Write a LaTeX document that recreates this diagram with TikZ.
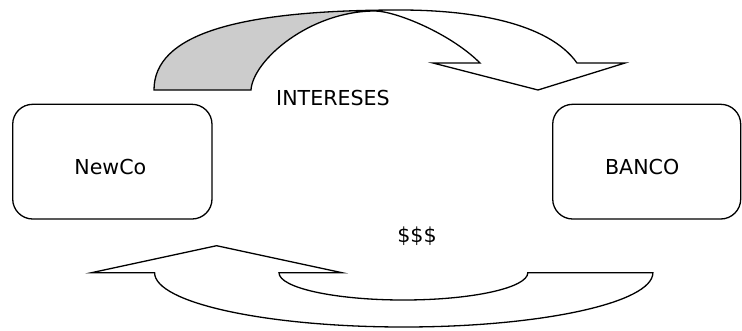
\documentclass[tikz,border=0pt]{standalone}
\usepackage{fontspec}
\setmainfont{DejaVu Sans}
\begin{document}
\begin{tikzpicture}[x=1pt,y=-1pt,line width=1.3pt,
  box/.style={draw,rounded corners=20pt,inner sep=0pt},
  lbl/.style={font=\fontsize{20.6}{24}\selectfont,inner sep=0pt},
  ribbon/.style={fill=black!20,draw=none}]
\fill[white] (0,0) rectangle (742,330);
\useasboundingbox (0,0) rectangle (742,330);
% boxes
\node[box,minimum width=199.3pt,minimum height=114.7pt] (newco) at (112.35,161.65) {};
\node[box,minimum width=188pt,minimum height=114.7pt] (banco) at (646.7,161.65) {};
\node[lbl] (newcoT) at (110.3,166.7) {NewCo};
\node[lbl] (bancoT) at (642.2,166.7) {BANCO};
\node[lbl] (int) at (333,98) {INTERESES};
\node[lbl] (usd) at (417,236) {\$\$\$};
% top curved arrow
\fill[ribbon] (154,90) .. controls (154,35) and (235,10) .. (400,10) -- (375,11)
  .. controls (310,11) and (253,60) .. (251,90) -- cycle;
\draw[line join=miter] (154,90) -- (251,90)
  .. controls (253,60) and (310,11) .. (375,11)
  .. controls (395,11) and (450,33) .. (480,63) -- (433,63) -- (538,90) -- (625,63) -- (577,63)
  .. controls (548,22) and (470,10) .. (400,10)
  .. controls (235,10) and (154,35) .. (154,90) -- cycle;
% bottom curved arrow
\draw[line join=miter] (91.5,272.7) -- (216.6,245.7) -- (342,272.7) -- (279,272.7)
  .. controls (279,287.8) and (334.7,300) .. (403.4,300)
  .. controls (472.1,300) and (527.8,287.8) .. (527.8,272.7) -- (652.9,272.7)
  .. controls (652.9,302.7) and (541.3,327) .. (403.7,327)
  .. controls (266.1,327) and (154.6,302.7) .. (154.6,272.7) -- cycle;
\end{tikzpicture}
\end{document}
